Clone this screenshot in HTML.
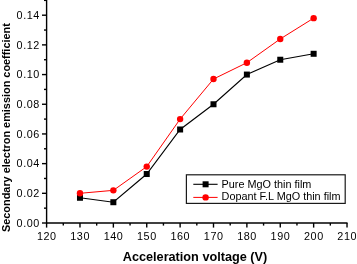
<!DOCTYPE html>
<html><head><meta charset="utf-8"><style>
html,body{margin:0;padding:0;background:#fff;}
svg{display:block;font-family:"Liberation Sans",sans-serif;will-change:transform;}
</style></head><body>
<svg width="357" height="264" viewBox="0 0 357 264">
<rect width="357" height="264" fill="#fff"/>
<g stroke="#000" stroke-width="1.4" fill="none">
<path d="M46.60 0V223.50"/>
<path d="M46.10 223.00H347.52"/>
<path d="M46.60 223.00v4.6"/>
<path d="M63.29 223.00v2.6"/>
<path d="M79.98 223.00v4.6"/>
<path d="M96.67 223.00v2.6"/>
<path d="M113.36 223.00v4.6"/>
<path d="M130.05 223.00v2.6"/>
<path d="M146.74 223.00v4.6"/>
<path d="M163.43 223.00v2.6"/>
<path d="M180.12 223.00v4.6"/>
<path d="M196.81 223.00v2.6"/>
<path d="M213.50 223.00v4.6"/>
<path d="M230.19 223.00v2.6"/>
<path d="M246.88 223.00v4.6"/>
<path d="M263.57 223.00v2.6"/>
<path d="M280.26 223.00v4.6"/>
<path d="M296.95 223.00v2.6"/>
<path d="M313.64 223.00v4.6"/>
<path d="M330.33 223.00v2.6"/>
<path d="M347.02 223.00v4.6"/>
<path d="M46.60 223.00h-4.6"/>
<path d="M46.60 208.16h-2.6"/>
<path d="M46.60 193.31h-4.6"/>
<path d="M46.60 178.47h-2.6"/>
<path d="M46.60 163.63h-4.6"/>
<path d="M46.60 148.78h-2.6"/>
<path d="M46.60 133.94h-4.6"/>
<path d="M46.60 119.10h-2.6"/>
<path d="M46.60 104.26h-4.6"/>
<path d="M46.60 89.41h-2.6"/>
<path d="M46.60 74.57h-4.6"/>
<path d="M46.60 59.73h-2.6"/>
<path d="M46.60 44.88h-4.6"/>
<path d="M46.60 30.04h-2.6"/>
<path d="M46.60 15.20h-4.6"/>
<path d="M46.60 0.36h-2.6"/>
</g>
<g font-size="10.8" fill="#000" text-anchor="middle" letter-spacing="0.6">
<text x="46.80" y="239.6">120</text>
<text x="80.18" y="239.6">130</text>
<text x="113.56" y="239.6">140</text>
<text x="146.94" y="239.6">150</text>
<text x="180.32" y="239.6">160</text>
<text x="213.70" y="239.6">170</text>
<text x="247.08" y="239.6">180</text>
<text x="280.46" y="239.6">190</text>
<text x="313.84" y="239.6">200</text>
<text x="347.22" y="239.6">210</text>
</g>
<g font-size="10.8" fill="#000" text-anchor="end" letter-spacing="0.55">
<text x="39.8" y="226.80">0.00</text>
<text x="39.8" y="197.11">0.02</text>
<text x="39.8" y="167.43">0.04</text>
<text x="39.8" y="137.74">0.06</text>
<text x="39.8" y="108.06">0.08</text>
<text x="39.8" y="78.37">0.10</text>
<text x="39.8" y="48.68">0.12</text>
<text x="39.8" y="19.00">0.14</text>
</g>
<text x="195" y="260.7" font-size="12.7" font-weight="bold" text-anchor="middle">Acceleration voltage (V)</text>
<text transform="translate(9.7,127.6) rotate(-90)" font-size="10.9" font-weight="bold" text-anchor="middle">Secondary electron emission coefficient</text>
<polyline points="79.98,197.77 113.36,202.22 146.74,174.02 180.12,129.49 213.50,104.26 246.88,74.57 280.26,59.73 313.64,53.79" fill="none" stroke="#000" stroke-width="1.1"/>
<polyline points="79.98,193.31 113.36,190.35 146.74,166.60 180.12,119.10 213.50,79.02 246.88,62.70 280.26,38.95 313.64,18.17" fill="none" stroke="#f00" stroke-width="1"/>
<rect x="76.98" y="194.77" width="6" height="6" fill="#000"/>
<rect x="110.36" y="199.22" width="6" height="6" fill="#000"/>
<rect x="143.74" y="171.02" width="6" height="6" fill="#000"/>
<rect x="177.12" y="126.49" width="6" height="6" fill="#000"/>
<rect x="210.50" y="101.26" width="6" height="6" fill="#000"/>
<rect x="243.88" y="71.57" width="6" height="6" fill="#000"/>
<rect x="277.26" y="56.73" width="6" height="6" fill="#000"/>
<rect x="310.64" y="50.79" width="6" height="6" fill="#000"/>
<circle cx="79.98" cy="193.31" r="3.2" fill="#f00"/>
<circle cx="113.36" cy="190.35" r="3.2" fill="#f00"/>
<circle cx="146.74" cy="166.60" r="3.2" fill="#f00"/>
<circle cx="180.12" cy="119.10" r="3.2" fill="#f00"/>
<circle cx="213.50" cy="79.02" r="3.2" fill="#f00"/>
<circle cx="246.88" cy="62.70" r="3.2" fill="#f00"/>
<circle cx="280.26" cy="38.95" r="3.2" fill="#f00"/>
<circle cx="313.64" cy="18.17" r="3.2" fill="#f00"/>
<rect x="186.4" y="174.8" width="158.8" height="28.6" fill="#fff" stroke="#1a1a1a" stroke-width="1.2"/>
<path d="M193.3 184.3H217.6" stroke="#000" stroke-width="1.1"/>
<rect x="202.6" y="181.3" width="6" height="6" fill="#000"/>
<path d="M193.3 197.4H217.6" stroke="#f00" stroke-width="1"/>
<circle cx="205.6" cy="197.4" r="3.2" fill="#f00"/>
<g font-size="10.85" fill="#000"><text x="221.6" y="187.8">Pure MgO thin film</text><text x="221.6" y="200.4">Dopant F.L MgO thin film</text></g>
</svg></body></html>
